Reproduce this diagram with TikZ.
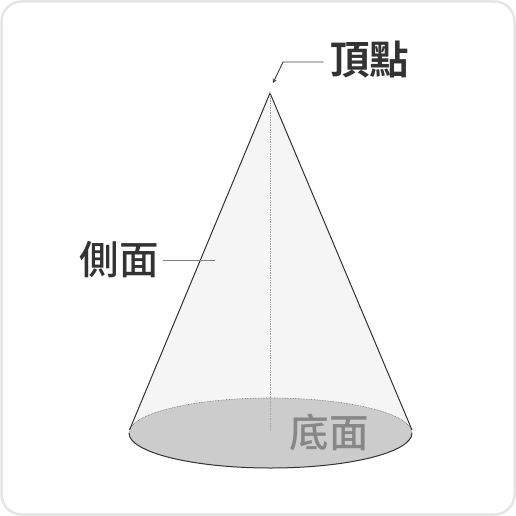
\documentclass[tikz,border=0pt]{standalone}
\usepackage{fontspec}
\newfontfamily\cjk{Noto Sans CJK TC Medium}
\newfontfamily\cjkbold{Noto Sans CJK TC Bold}
\usetikzlibrary{arrows,positioning}
\tikzset{
    label/.style={
           inner sep=0pt,
           text=black!80,
           font=\cjk\fontsize{39.5}{39.5}\selectfont
           },
    toplabel/.style={
           inner sep=0pt,
           text=black!80,
           font=\cjkbold\fontsize{39.5}{39.5}\selectfont
           },
    base/.style={
           inner sep=0pt,
           text=black!47,
           font=\cjk\fontsize{39.5}{39.5}\selectfont
           },
    leader/.style={
           black!50, line width=0.9pt
           }
}
\begin{document}
\begin{tikzpicture}[x=1pt,y=-1pt,>=stealth]
   \useasboundingbox (0,0) rectangle (516,516);
   \draw[black!10, line width=2.5pt, rounded corners=20pt] (1.5,1.5) rectangle (514.5,514.5);
   % cone
   \coordinate (apex) at (270,93);
   \coordinate (left) at (129.5,430);
   \coordinate (right) at (412,430);
   \coordinate (centre) at (270.5,433);
   \coordinate (axisend) at (270,430);
   \fill[black!4] (apex) -- (left) -- (right) -- cycle;
   \fill[black!20] (centre) ellipse [x radius=141.5, y radius=35];
   \draw[black!60, densely dotted, line width=0.6pt] (centre) ++(-141.5,0) arc [start angle=180, end angle=360, x radius=141.5, y radius=35];
   \draw[black!80, line width=1pt] (left) -- (apex) -- (right);
   \draw[black!80, line width=1pt] (centre) ++(141.5,0) arc [start angle=0, end angle=180, x radius=141.5, y radius=35];
   \draw[black!35, densely dotted, line width=0.7pt] (apex) -- (axisend);
   % labels
   \node[toplabel] (vertex) at (369.5,60) {頂點};
   \node[label] (side) at (119,260) {側面};
   \node[base] (bottom) at (329,432) {底面};
   \coordinate (sideend) at (215,260);
   \coordinate (vertexbend) at (283,62);
   \coordinate (vertexend) at (273,83);
   \draw[leader] (side) ++(44,0) -- (sideend);
   \draw[leader, black!75, ->] (vertex) ++(-46,2) -- (vertexbend) -- (vertexend);
\end{tikzpicture}
\end{document}
